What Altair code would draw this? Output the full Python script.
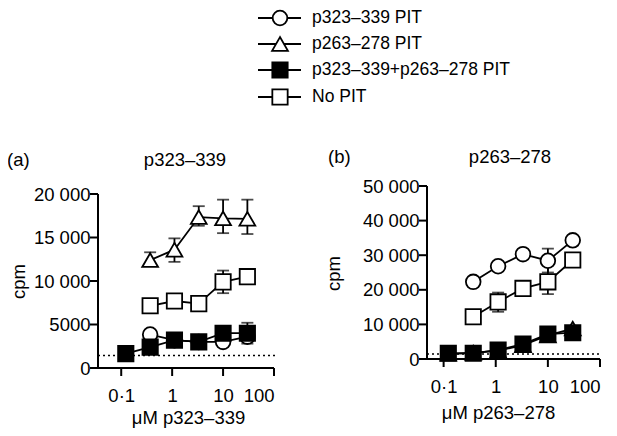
import altair as alt
import pandas as pd

FONT = "Liberation Sans"
FS = 18.5
FS_LEG = 17.5
AXW = 2.0

conc = [0.123, 0.37, 1.11, 3.33, 10, 30]
series = ["p323–339 PIT", "p263–278 PIT", "p323–339+p263–278 PIT", "No PIT"]
shapes = ["circle", "triangle-up", "square", "square"]
fills = ["white", "white", "black", "white"]
sizes = [215, 250, 235, 235]
draw_order = [1, 0, 3, 2]

# panel (a): stimulation with p323-339
a_mean = {
    series[0]: [None, 3850, 3200, 3000, 3000, 3600],
    series[1]: [None, 12400, 13600, 17350, 17200, 17150],
    series[2]: [1650, 2400, 3200, 3000, 4000, 4000],
    series[3]: [None, 7150, 7700, 7400, 9900, 10500],
}
a_lo = {
    series[0]: [None, 3850, 3200, 3000, 3000, 3300],
    series[1]: [None, 11800, 12200, 16350, 15500, 15400],
    series[2]: [1650, 2400, 3000, 3000, 3600, 2800],
    series[3]: [None, 7150, 7300, 7400, 8600, 10500],
}
a_hi = {
    series[0]: [None, 3850, 3200, 3000, 3000, 3900],
    series[1]: [None, 13300, 14900, 18600, 19350, 19350],
    series[2]: [1650, 2400, 3400, 3000, 4300, 5200],
    series[3]: [None, 7150, 8100, 7400, 11200, 10500],
}

# panel (b): stimulation with p263-278
b_mean = {
    series[0]: [None, 22300, 26800, 30300, 28400, 34300],
    series[1]: [1500, 1800, 2400, 4000, 6800, 8800],
    series[2]: [1650, 1650, 2600, 4300, 7200, 7600],
    series[3]: [None, 12200, 16500, 20400, 22300, 28600],
}
b_lo = {
    series[0]: [None, 22300, 26800, 30300, 25000, 34300],
    series[1]: [1500, 1800, 2400, 4000, 6800, 8800],
    series[2]: [1650, 1650, 2600, 4300, 6200, 7600],
    series[3]: [None, 12200, 13650, 20400, 18750, 28600],
}
b_hi = {
    series[0]: [None, 22300, 26800, 30300, 31900, 34300],
    series[1]: [1500, 1800, 2400, 4000, 6800, 8800],
    series[2]: [1650, 1650, 2600, 4300, 8200, 7600],
    series[3]: [None, 12200, 19200, 20400, 27100, 28600],
}

baseline_cpm = 1450
panel_tags = ["(a)", "(b)"]
panel_titles = ["p323–339", "p263–278"]
x_titles = ["μM p323–339", "μM p263–278"]
x_ticks = [0.1, 1, 10, 100]
a_y_ticks = [0, 5000, 10000, 15000, 20000]
b_y_ticks = [0, 10000, 20000, 30000, 40000, 50000]


def long_df(mean, lo, hi):
    rows = []
    for s in series:
        for c, m, l, h in zip(conc, mean[s], lo[s], hi[s]):
            if m is None:
                continue
            rows.append(dict(series=s, x=c, y=m, lo=l, hi=h))
    return pd.DataFrame(rows)


def make_axis(**kw):
    return alt.Axis(
        domain=False, ticks=False, tickSize=0,
        labelFont=FONT, labelFontSize=FS, labelColor="black",
        titleFont=FONT, titleFontSize=FS, titleFontWeight="normal",
        titleColor="black", grid=False, **kw)


YLAB = "datum.value >= 10000 ? replace(format(datum.value, ','), ',', ' ') : format(datum.value, 'd')"
XLAB = "datum.value < 0.5 ? '0·1' : format(datum.value, 'd')"


def panel(df, xdom, xend, ydom, xrange, yrange, yticks, xtitle, xaxis_kw, yaxis_kw,
          tag, title, tag_xy, title_xy):
    xs = alt.Scale(type="log", domain=xdom, range=xrange, nice=False)
    ys = alt.Scale(domain=ydom, range=yrange, nice=False, zero=False)
    xax = make_axis(values=x_ticks, labelExpr=XLAB, labelPadding=18, title=xtitle,
                    orient="bottom", titleBaseline="middle", **xaxis_kw)
    yax = make_axis(values=yticks, labelExpr=YLAB, labelPadding=8, title="cpm",
                    orient="left", titleBaseline="middle", titleAngle=270, **yaxis_kw)

    def X(f):
        return alt.X(f, type="quantitative", scale=xs, axis=xax)

    def Y(f):
        return alt.Y(f, type="quantitative", scale=ys, axis=yax)

    base = pd.DataFrame({"x": [xdom[0]], "x2": [xend], "y": [baseline_cpm]})
    # axis lines and outward ticks, drawn from the tick lists
    yline = pd.DataFrame({"x": [xdom[0]], "y": [ydom[0]], "y2": [ydom[1]]})
    xline = pd.DataFrame({"x": [xdom[0]], "x2": [xdom[1]], "y": [ydom[0]]})
    yt = pd.DataFrame({"x": [xdom[0]] * len(yticks), "y": yticks})
    xt = pd.DataFrame({"x": x_ticks, "y": [ydom[0]] * len(x_ticks)})

    layers = [
        alt.Chart(base).mark_rule(color="black", strokeWidth=1.5, strokeDash=[2, 3])
        .encode(x=X("x"), x2="x2", y=Y("y")),
        alt.Chart(df).mark_rule(color="black", strokeWidth=1.8)
        .encode(x=X("x"), y=Y("lo"), y2="hi"),
        alt.Chart(df).mark_tick(orient="horizontal", size=12, thickness=1.8, color="black")
        .encode(x=X("x"), y=Y("lo")),
        alt.Chart(df).mark_tick(orient="horizontal", size=12, thickness=1.8, color="black")
        .encode(x=X("x"), y=Y("hi")),
        alt.Chart(df).mark_line(color="black", strokeWidth=1.8)
        .encode(x=X("x"), y=Y("y"), detail="series:N"),
    ]
    for i in draw_order:
        layers.append(
            alt.Chart(df).transform_filter(alt.datum.series == series[i])
            .mark_point(shape=shapes[i], filled=True, fill=fills[i], stroke="black",
                        strokeWidth=1.8, size=sizes[i], opacity=1)
            .encode(x=X("x"), y=Y("y"))
        )
    layers += [
        alt.Chart(yline).mark_rule(color="#000000", strokeWidth=AXW, opacity=1)
        .encode(x=X("x"), y=Y("y"), y2="y2"),
        alt.Chart(xline).mark_rule(color="#000000", strokeWidth=AXW, opacity=1)
        .encode(x=X("x"), x2="x2", y=Y("y")),
        alt.Chart(yt).mark_tick(orient="horizontal", size=8, thickness=AXW, color="#000000",
                                opacity=1, xOffset=-4)
        .encode(x=X("x"), y=Y("y")),
        alt.Chart(xt).mark_tick(orient="vertical", size=8, thickness=AXW, color="#000000",
                                opacity=1, yOffset=4)
        .encode(x=X("x"), y=Y("y")),
    ]
    txt = pd.DataFrame({"t": [tag], "u": [title]})
    layers.append(alt.Chart(txt).mark_text(align="left", baseline="middle", font=FONT,
                                           fontSize=FS, color="black")
                  .encode(text="t:N", x=alt.value(tag_xy[0]), y=alt.value(tag_xy[1])))
    layers.append(alt.Chart(txt).mark_text(align="center", baseline="middle", font=FONT,
                                           fontSize=FS, color="black")
                  .encode(text="u:N", x=alt.value(title_xy[0]), y=alt.value(title_xy[1])))
    return alt.layer(*layers)


df_a = long_df(a_mean, a_lo, a_hi)
df_b = long_df(b_mean, b_lo, b_hi)

pa = panel(df_a, [0.035, 100], 110, [0, 20000], [0, 176], [174, 0], a_y_ticks, x_titles[0],
           dict(titleX=90, titleY=49), dict(titleX=-80, titleY=87),
           panel_tags[0], panel_titles[0], (-91, -34), (87, -34))
pb = panel(df_b, [0.048, 100], 100, [0, 50000], [329, 502], [165, -8], b_y_ticks, x_titles[1],
           dict(titleX=400, titleY=53, offset=-9), dict(titleX=-94, titleY=79, offset=-329),
           panel_tags[1], panel_titles[1], (230, -37), (412, -37))

# legend drawn above the panels
leg_rows = [-176, -150, -124, -97]
leg_layers = []
for i, s in enumerate(series):
    d = pd.DataFrame({"s": [s]})
    leg_layers.append(alt.Chart(d).mark_rule(color="black", strokeWidth=1.8)
                      .encode(x=alt.value(160), x2=alt.value(203), y=alt.value(leg_rows[i])))
    leg_layers.append(alt.Chart(d).mark_point(shape=shapes[i], filled=True, fill=fills[i],
                                              stroke="black", strokeWidth=1.8, size=sizes[i], opacity=1)
                      .encode(x=alt.value(182), y=alt.value(leg_rows[i])))
    leg_layers.append(alt.Chart(d).mark_text(align="left", baseline="middle", font=FONT,
                                             fontSize=FS_LEG, color="black")
                      .encode(text="s:N", x=alt.value(214), y=alt.value(leg_rows[i])))
legend = alt.layer(*leg_layers)

chart = (
    alt.layer(pa, pb, legend)
    .resolve_scale(x="independent", y="independent")
    .properties(
        width=176, height=174,
        padding={"left": 90, "top": 186, "right": 335, "bottom": 60},
        autosize=alt.AutoSizeParams(type="none"),
        background="white",
    )
    .configure_view(stroke=None)
)

chart.save("out.html", embed_options={"renderer": "svg", "actions": False})
